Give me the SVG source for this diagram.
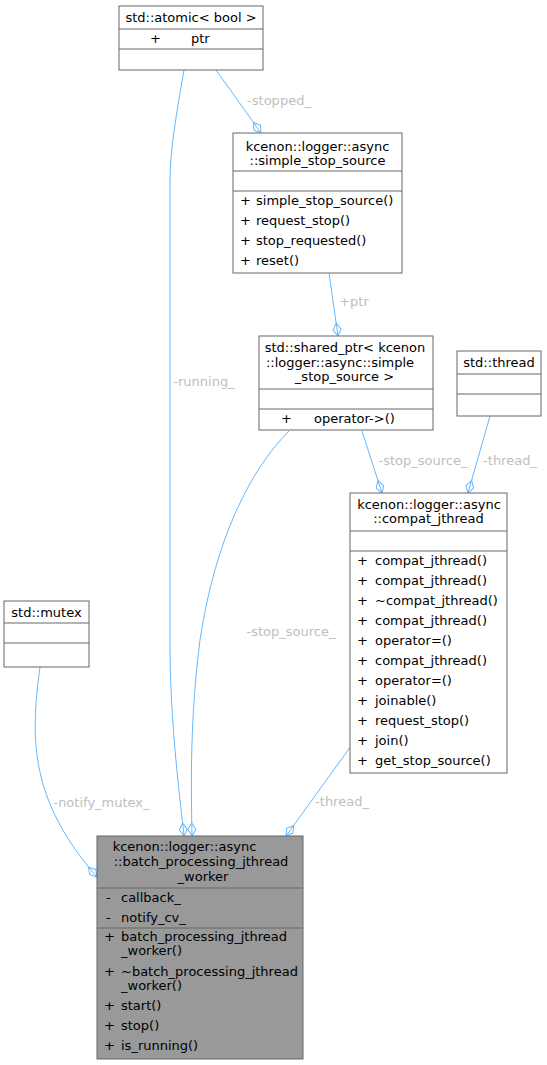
<svg xmlns="http://www.w3.org/2000/svg" width="547" height="1065" viewBox="0 0 547 1065">
<style>
text{font-family:"DejaVu Sans","Liberation Sans",sans-serif;font-size:13px;fill:#000}
.c{text-anchor:middle}
.box{fill:#fff;stroke:#666;stroke-width:1}
.hl{fill:#999;stroke:#666;stroke-width:1}
.sep{stroke:#666;stroke-width:1}
.e{fill:none;stroke:#63b8ff;stroke-width:1;marker-end:url(#od)}
.lbl{fill:#bebebe;text-anchor:middle}
</style>
<defs>
<marker id="od" viewBox="0 0 14 9" refX="13.5" refY="4.5" markerWidth="14" markerHeight="9" markerUnits="userSpaceOnUse" orient="auto" overflow="visible">
<path d="M0.5,4.5 L7,0.5 L13.5,4.5 L7,8.5 Z" fill="none" stroke="#63b8ff" stroke-width="1"/>
</marker>
</defs>
<rect width="547" height="1065" fill="#fff"/>

<g id="edges">
<path class="e" d="M216,70 L261,133"/>
<path class="e" d="M184,70 C177,110 170,150 170,180 L170,640 C170,720 178,780 184,836"/>
<path class="e" d="M329,273 L338,336"/>
<path class="e" d="M289,431 C250,470 215,540 200,640 C190,720 191,780 192,836"/>
<path class="e" d="M362,431 L382,493"/>
<path class="e" d="M490,416 L468,493"/>
<path class="e" d="M351,746 L286,836"/>
<path class="e" d="M40,667 C30,740 30,800 97,877"/>
<text class="lbl" x="279" y="105">-stopped_</text>
<text class="lbl" x="204" y="386">-running_</text>
<text class="lbl" x="354" y="306">+ptr</text>
<text class="lbl" x="291" y="636">-stop_source_</text>
<text class="lbl" x="423" y="465">-stop_source_</text>
<text class="lbl" x="510" y="465">-thread_</text>
<text class="lbl" x="342" y="806">-thread_</text>
<text class="lbl" x="101.5" y="807">-notify_mutex_</text>
</g>

<g id="atomic">
<rect class="box" x="119" y="6" width="144" height="64"/>
<line class="sep" x1="119" y1="29" x2="263" y2="29"/>
<line class="sep" x1="119" y1="49" x2="263" y2="49"/>
<text class="c" x="191" y="22">std::atomic&lt; bool &gt;</text>
<text x="150" y="43">+</text>
<text x="191" y="43">ptr</text>
</g>

<g id="simple_stop_source">
<rect class="box" x="233" y="133" width="169" height="140"/>
<line class="sep" x1="233" y1="171" x2="402" y2="171"/>
<line class="sep" x1="233" y1="191" x2="402" y2="191"/>
<text class="c" x="317.5" y="151">kcenon::logger::async</text>
<text class="c" x="317.5" y="165">::simple_stop_source</text>
<text x="240" y="205">+</text><text x="256" y="205">simple_stop_source()</text>
<text x="240" y="225">+</text><text x="256" y="225">request_stop()</text>
<text x="240" y="245">+</text><text x="256" y="245">stop_requested()</text>
<text x="240" y="265">+</text><text x="256" y="265">reset()</text>
</g>

<g id="shared_ptr">
<rect class="box" x="259" y="336" width="174" height="94"/>
<line class="sep" x1="259" y1="389" x2="433" y2="389"/>
<line class="sep" x1="259" y1="409" x2="433" y2="409"/>
<text class="c" x="345" y="352">std::shared_ptr&lt; kcenon</text>
<text class="c" x="340" y="367">::logger::async::simple</text>
<text class="c" x="344.5" y="381">_stop_source &gt;</text>
<text x="281" y="423">+</text><text x="314" y="423">operator-&gt;()</text>
</g>

<g id="thread">
<rect class="box" x="457" y="351" width="84" height="65"/>
<line class="sep" x1="457" y1="374" x2="541" y2="374"/>
<line class="sep" x1="457" y1="394" x2="541" y2="394"/>
<text class="c" x="499" y="367">std::thread</text>
</g>

<g id="compat_jthread">
<rect class="box" x="350" y="493" width="157" height="280"/>
<line class="sep" x1="350" y1="531" x2="507" y2="531"/>
<line class="sep" x1="350" y1="551" x2="507" y2="551"/>
<text class="c" x="429" y="509">kcenon::logger::async</text>
<text class="c" x="428.5" y="523">::compat_jthread</text>
<text x="357" y="565">+</text><text x="375" y="565">compat_jthread()</text>
<text x="357" y="585">+</text><text x="375" y="585">compat_jthread()</text>
<text x="357" y="605">+</text><text x="375" y="605">~compat_jthread()</text>
<text x="357" y="625">+</text><text x="375" y="625">compat_jthread()</text>
<text x="357" y="645">+</text><text x="375" y="645">operator=()</text>
<text x="357" y="665">+</text><text x="375" y="665">compat_jthread()</text>
<text x="357" y="685">+</text><text x="375" y="685">operator=()</text>
<text x="357" y="705">+</text><text x="375" y="705">joinable()</text>
<text x="357" y="725">+</text><text x="375" y="725">request_stop()</text>
<text x="357" y="745">+</text><text x="375" y="745">join()</text>
<text x="357" y="765">+</text><text x="375" y="765">get_stop_source()</text>
</g>

<g id="mutex">
<rect class="box" x="4" y="601" width="85" height="66"/>
<line class="sep" x1="4" y1="623" x2="89" y2="623"/>
<line class="sep" x1="4" y1="643" x2="89" y2="643"/>
<text class="c" x="46.5" y="617">std::mutex</text>
</g>

<g id="batch_processing_jthread_worker">
<rect class="hl" x="97" y="836" width="206" height="223"/>
<line class="sep" x1="97" y1="888" x2="303" y2="888"/>
<line class="sep" x1="97" y1="928" x2="303" y2="928"/>
<text class="c" x="184.5" y="851">kcenon::logger::async</text>
<text class="c" x="201" y="866">::batch_processing_jthread</text>
<text class="c" x="203" y="881">_worker</text>
<text x="106" y="902">-</text><text x="121" y="902">callback_</text>
<text x="106" y="922">-</text><text x="121" y="922">notify_cv_</text>
<text x="104" y="941">+</text><text x="121" y="941">batch_processing_jthread</text>
<text x="121" y="955">_worker()</text>
<text x="104" y="976">+</text><text x="121" y="976">~batch_processing_jthread</text>
<text x="121" y="990">_worker()</text>
<text x="104" y="1010">+</text><text x="121" y="1010">start()</text>
<text x="104" y="1030">+</text><text x="121" y="1030">stop()</text>
<text x="104" y="1050">+</text><text x="121" y="1050">is_running()</text>
</g>
</svg>
